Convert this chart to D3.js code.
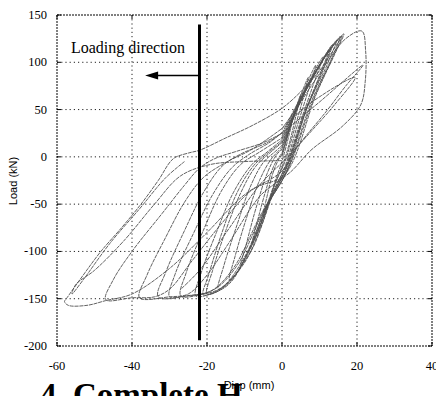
<!DOCTYPE html>
<html>
<head>
<meta charset="utf-8">
<script src="https://cdn.jsdelivr.net/npm/d3@7"></script>
<style>
	body { margin: 0; background: #fff; }
	.serif { font-family: "Liberation Serif", "Times New Roman", serif; }
	.sans { font-family: "Liberation Sans", Arial, sans-serif; }
</style>
</head>
<body>
<div id="chart"></div>
<script>
// axis ticks
var xTicks = [-60, -40, -20, 0, 20, 40];
var yTicks = [150, 100, 50, 0, -50, -100, -150, -200];

// hysteresis loops, [disp (mm), load (kN)]
var loop1 = [[0,0],[1.5,22],[3,42],[2,25],[0.5,2],[0,-5],[-1.5,-22],[-3.5,-45],[-5,-60],[-4,-42],[-2.5,-18],[-0.8,-2],[0,2]];
var loop2 = [[0,2],[2,30],[4,55],[5,66],[3.8,45],[2,15],[0.5,-5],[-2,-30],[-5,-65],[-8,-92],[-6.8,-72],[-4.5,-38],[-2,-8],[0,4]];
var loop3 = [[0,4],[2.5,35],[5,65],[7,84],[5.5,60],[3,25],[0.8,-5],[-2,-30],[-5,-68],[-8,-98],[-11,-115],[-9.5,-92],[-7,-55],[-4,-18],[-1.5,2],[0,8]];
var loop4 = [[0,8],[3,42],[6,72],[9,97],[7,70],[4,32],[1,-8],[-2,-35],[-6,-78],[-10,-112],[-14,-130],[-12.5,-105],[-9.5,-65],[-6,-25],[-3,-3],[0,10]];
var loop5 = [[0,10],[3.5,45],[7,78],[11,106],[8.5,78],[5,38],[1,-10],[-3,-42],[-7,-85],[-12,-122],[-17,-140],[-15.5,-115],[-12,-72],[-8.5,-32],[-5,-6],[-2,5],[0,12]];
var loop6 = [[0,12],[4,50],[8,83],[12.5,113],[10,86],[6,45],[1,-12],[-3,-45],[-8,-92],[-13,-128],[-17,-142],[-20,-145],[-18.5,-120],[-15,-78],[-11,-38],[-7,-10],[-3,5],[0,15]];
var loop7 = [[0,15],[4.5,55],[9,90],[13.5,119],[11,92],[6.5,50],[1,-14],[-4,-50],[-9,-100],[-14,-134],[-19,-145],[-23,-147],[-21.5,-122],[-17.5,-80],[-13,-38],[-8,-8],[-4,5],[0,18]];
var loop8 = [[0,18],[5,60],[10,96],[14.5,123],[12,97],[7,55],[1.2,-15],[-4,-52],[-10,-106],[-16,-138],[-22,-146],[-27,-147],[-25.5,-122],[-21,-78],[-16,-35],[-11,-8],[-6,5],[0,20]];
var loop9 = [[0,20],[5.5,64],[10.5,100],[15.5,127],[13,102],[8,60],[1.3,-15],[-5,-58],[-12,-115],[-18,-140],[-25,-147],[-33,-148],[-31,-122],[-26,-78],[-21,-38],[-16,-10],[-11,3],[-4,15],[0,25]];
var loop10 = [[0,25],[6,70],[11.5,106],[16.5,130],[14,108],[9,65],[1.5,-15],[-6,-42],[-14,-90],[-20,-125],[-25,-145],[-30,-148],[-38,-149],[-36,-125],[-31,-85],[-26,-48],[-21,-22],[-15,-6],[-8,8],[0,30]];
var loop11 = [[0,30],[4,52],[10,88],[17,125],[21.3,133],[22.3,112],[22.2,80],[21,55],[16,32],[8,8],[1,-20],[-8,-35],[-16,-70],[-24,-110],[-30,-140],[-34,-148],[-40,-149],[-47,-151],[-45,-130],[-40,-100],[-32,-60],[-26,-30],[-22,-12],[-18,-2],[-12,6],[-5,15],[0,25]];
var loop12 = [[0,25],[10,58],[21.6,97],[17,75],[12,49],[4,10],[0,-15],[-10,-40],[-20,-80],[-30,-118],[-40,-145],[-47,-152],[-52,-157],[-57,-157],[-58,-153],[-57.5,-150],[-53,-125],[-48.3,-100],[-42.8,-75],[-37.6,-50],[-33,-25],[-29,-2],[-25,4],[-22,7],[-15,20],[-8,33],[-0.5,50],[4,65],[10,91],[16,128]];
var loop13 = [[0,30],[8,58],[19.5,84],[14,55],[8,28],[1.3,-1],[-6,-30],[-14,-75],[-22,-120],[-27,-140]];
var loop14 = [[0,14],[4,52],[8.5,85],[13,116],[10.5,89],[6,47],[1,-13],[-3.5,-48],[-8.5,-96],[-13.5,-130],[-18,-143],[-21,-146],[-19.5,-124],[-16,-80],[-12,-38],[-7.5,-9],[-3.5,5],[0,16]];
var loop15 = [[0,22],[5.5,66],[11,103],[16,128],[13.5,105],[8.5,62],[1.4,-15],[-5.5,-60],[-13,-118],[-19,-142],[-26,-147],[-30,-148],[-28.5,-124],[-23.5,-80],[-18.5,-40],[-13.5,-12],[-9,2],[-3,16],[0,26]];
var loop16 = [[0,-4],[-10,-5],[-19,-8],[-27,-20],[-34,-50],[-42,-88],[-50,-120],[-55,-135],[-56,-145],[-53,-130],[-46,-92],[-38,-55],[-31,-22],[-26,-5]];

// loading direction marker (disp, load)
var markerX = -22;
var markerLoad = [140, -194];
var arrowFrom = -22;
var arrowTo = -36.5;
var arrowLoad = 86;

makechart()

function makechart() {
	var W = 436;
	var H = 396;
	var margin = { top: 15, right: 4, bottom: 50, left: 57 };

	var svg = d3.select("#chart")
		.append("svg")
		.attr("width", W)
		.attr("height", H)
		.style("background", "#fff");

	var x = d3.scaleLinear().domain([-60, 40]).range([margin.left, W - margin.right]);
	var y = d3.scaleLinear().domain([-200, 150]).range([H - margin.bottom, margin.top]);

	// caption, partly hidden like in the scan
	svg.append("clipPath").attr("id", "capclip")
		.append("rect").attr("x", 0).attr("y", 0).attr("width", 242).attr("height", H);
	svg.append("text")
		.attr("class", "serif")
		.attr("clip-path", "url(#capclip)")
		.attr("x", 40)
		.attr("y", 406)
		.style("font-weight", "bold")
		.style("font-size", "33px")
		.text("4. Complete Hysteresis Curves");

	// grid
	var grid = svg.append("g").attr("stroke", "#222").attr("stroke-width", 1).attr("stroke-dasharray", "1.2,3");
	grid.selectAll(".gx").data(xTicks.slice(1, -1)).enter().append("line")
		.attr("x1", d => x(d)).attr("x2", d => x(d))
		.attr("y1", y(150)).attr("y2", y(-200));
	grid.selectAll(".gy").data(yTicks.slice(1, -1)).enter().append("line")
		.attr("x1", x(-60)).attr("x2", x(40))
		.attr("y1", d => y(d)).attr("y2", d => y(d));

	// loops
	var line = d3.line()
		.x(d => x(d[0]))
		.y(d => y(d[1]))
		.curve(d3.curveCatmullRom.alpha(0.5));
	var loops = [loop1, loop2, loop3, loop4, loop5, loop6, loop7, loop8, loop9, loop10, loop11, loop12, loop13, loop14, loop15, loop16];
	svg.append("g").selectAll("path").data(loops).enter().append("path")
		.attr("d", line)
		.attr("fill", "none")
		.attr("stroke", "#505050")
		.attr("stroke-width", 0.9)
		.attr("stroke-dasharray", "4,0.8");

	// frame
	svg.append("rect")
		.attr("x", x(-60)).attr("y", y(150))
		.attr("width", x(40) - x(-60)).attr("height", y(-200) - y(150))
		.attr("fill", "none")
		.attr("stroke", "#000")
		.attr("stroke-width", 1)
		.attr("stroke-dasharray", "2,1");

	// tick marks on all sides
	var tk = svg.append("g").attr("stroke", "#000").attr("stroke-width", 1);
	xTicks.forEach(function(t) {
		tk.append("line").attr("x1", x(t)).attr("x2", x(t)).attr("y1", y(-200)).attr("y2", y(-200) - 4);
		tk.append("line").attr("x1", x(t)).attr("x2", x(t)).attr("y1", y(150)).attr("y2", y(150) + 4);
	});
	yTicks.forEach(function(t) {
		tk.append("line").attr("x1", x(-60)).attr("x2", x(-60) + 4).attr("y1", y(t)).attr("y2", y(t));
		tk.append("line").attr("x1", x(40)).attr("x2", x(40) - 4).attr("y1", y(t)).attr("y2", y(t));
	});

	// tick labels
	svg.append("g").selectAll("text").data(xTicks).enter().append("text")
		.attr("class", "serif")
		.attr("x", d => x(d))
		.attr("y", y(-200) + 24)
		.attr("text-anchor", "middle")
		.style("font-size", "12.5px")
		.text(d => d);
	svg.append("g").selectAll("text").data(yTicks).enter().append("text")
		.attr("class", "serif")
		.attr("x", x(-60) - 10)
		.attr("y", d => y(d) + 4)
		.attr("text-anchor", "end")
		.style("font-size", "12.5px")
		.text(d => d);

	// axis titles
	svg.append("text")
		.attr("class", "sans")
		.attr("x", 249).attr("y", 389)
		.attr("text-anchor", "middle")
		.style("font-size", "11px")
		.text("Disp (mm)");
	svg.append("text")
		.attr("class", "sans")
		.attr("transform", "translate(17,181) rotate(-90)")
		.attr("text-anchor", "middle")
		.style("font-size", "11px")
		.text("Load (kN)");

	// loading direction marker
	svg.append("line")
		.attr("x1", x(markerX)).attr("x2", x(markerX))
		.attr("y1", y(markerLoad[0])).attr("y2", y(markerLoad[1]))
		.attr("stroke", "#000").attr("stroke-width", 3);
	svg.append("line")
		.attr("x1", x(arrowFrom)).attr("x2", x(arrowTo) + 8)
		.attr("y1", y(arrowLoad)).attr("y2", y(arrowLoad))
		.attr("stroke", "#000").attr("stroke-width", 1.5);
	var ax = x(arrowTo), ay = y(arrowLoad);
	svg.append("path")
		.attr("d", `M${ax},${ay} L${ax + 13},${ay - 4} L${ax + 13},${ay + 4} Z`)
		.attr("fill", "#000");
	svg.append("text")
		.attr("class", "serif")
		.attr("x", x(-56.3)).attr("y", y(110))
		.style("font-size", "16px")
		.text("Loading direction");
}
</script>
</body>
</html>
